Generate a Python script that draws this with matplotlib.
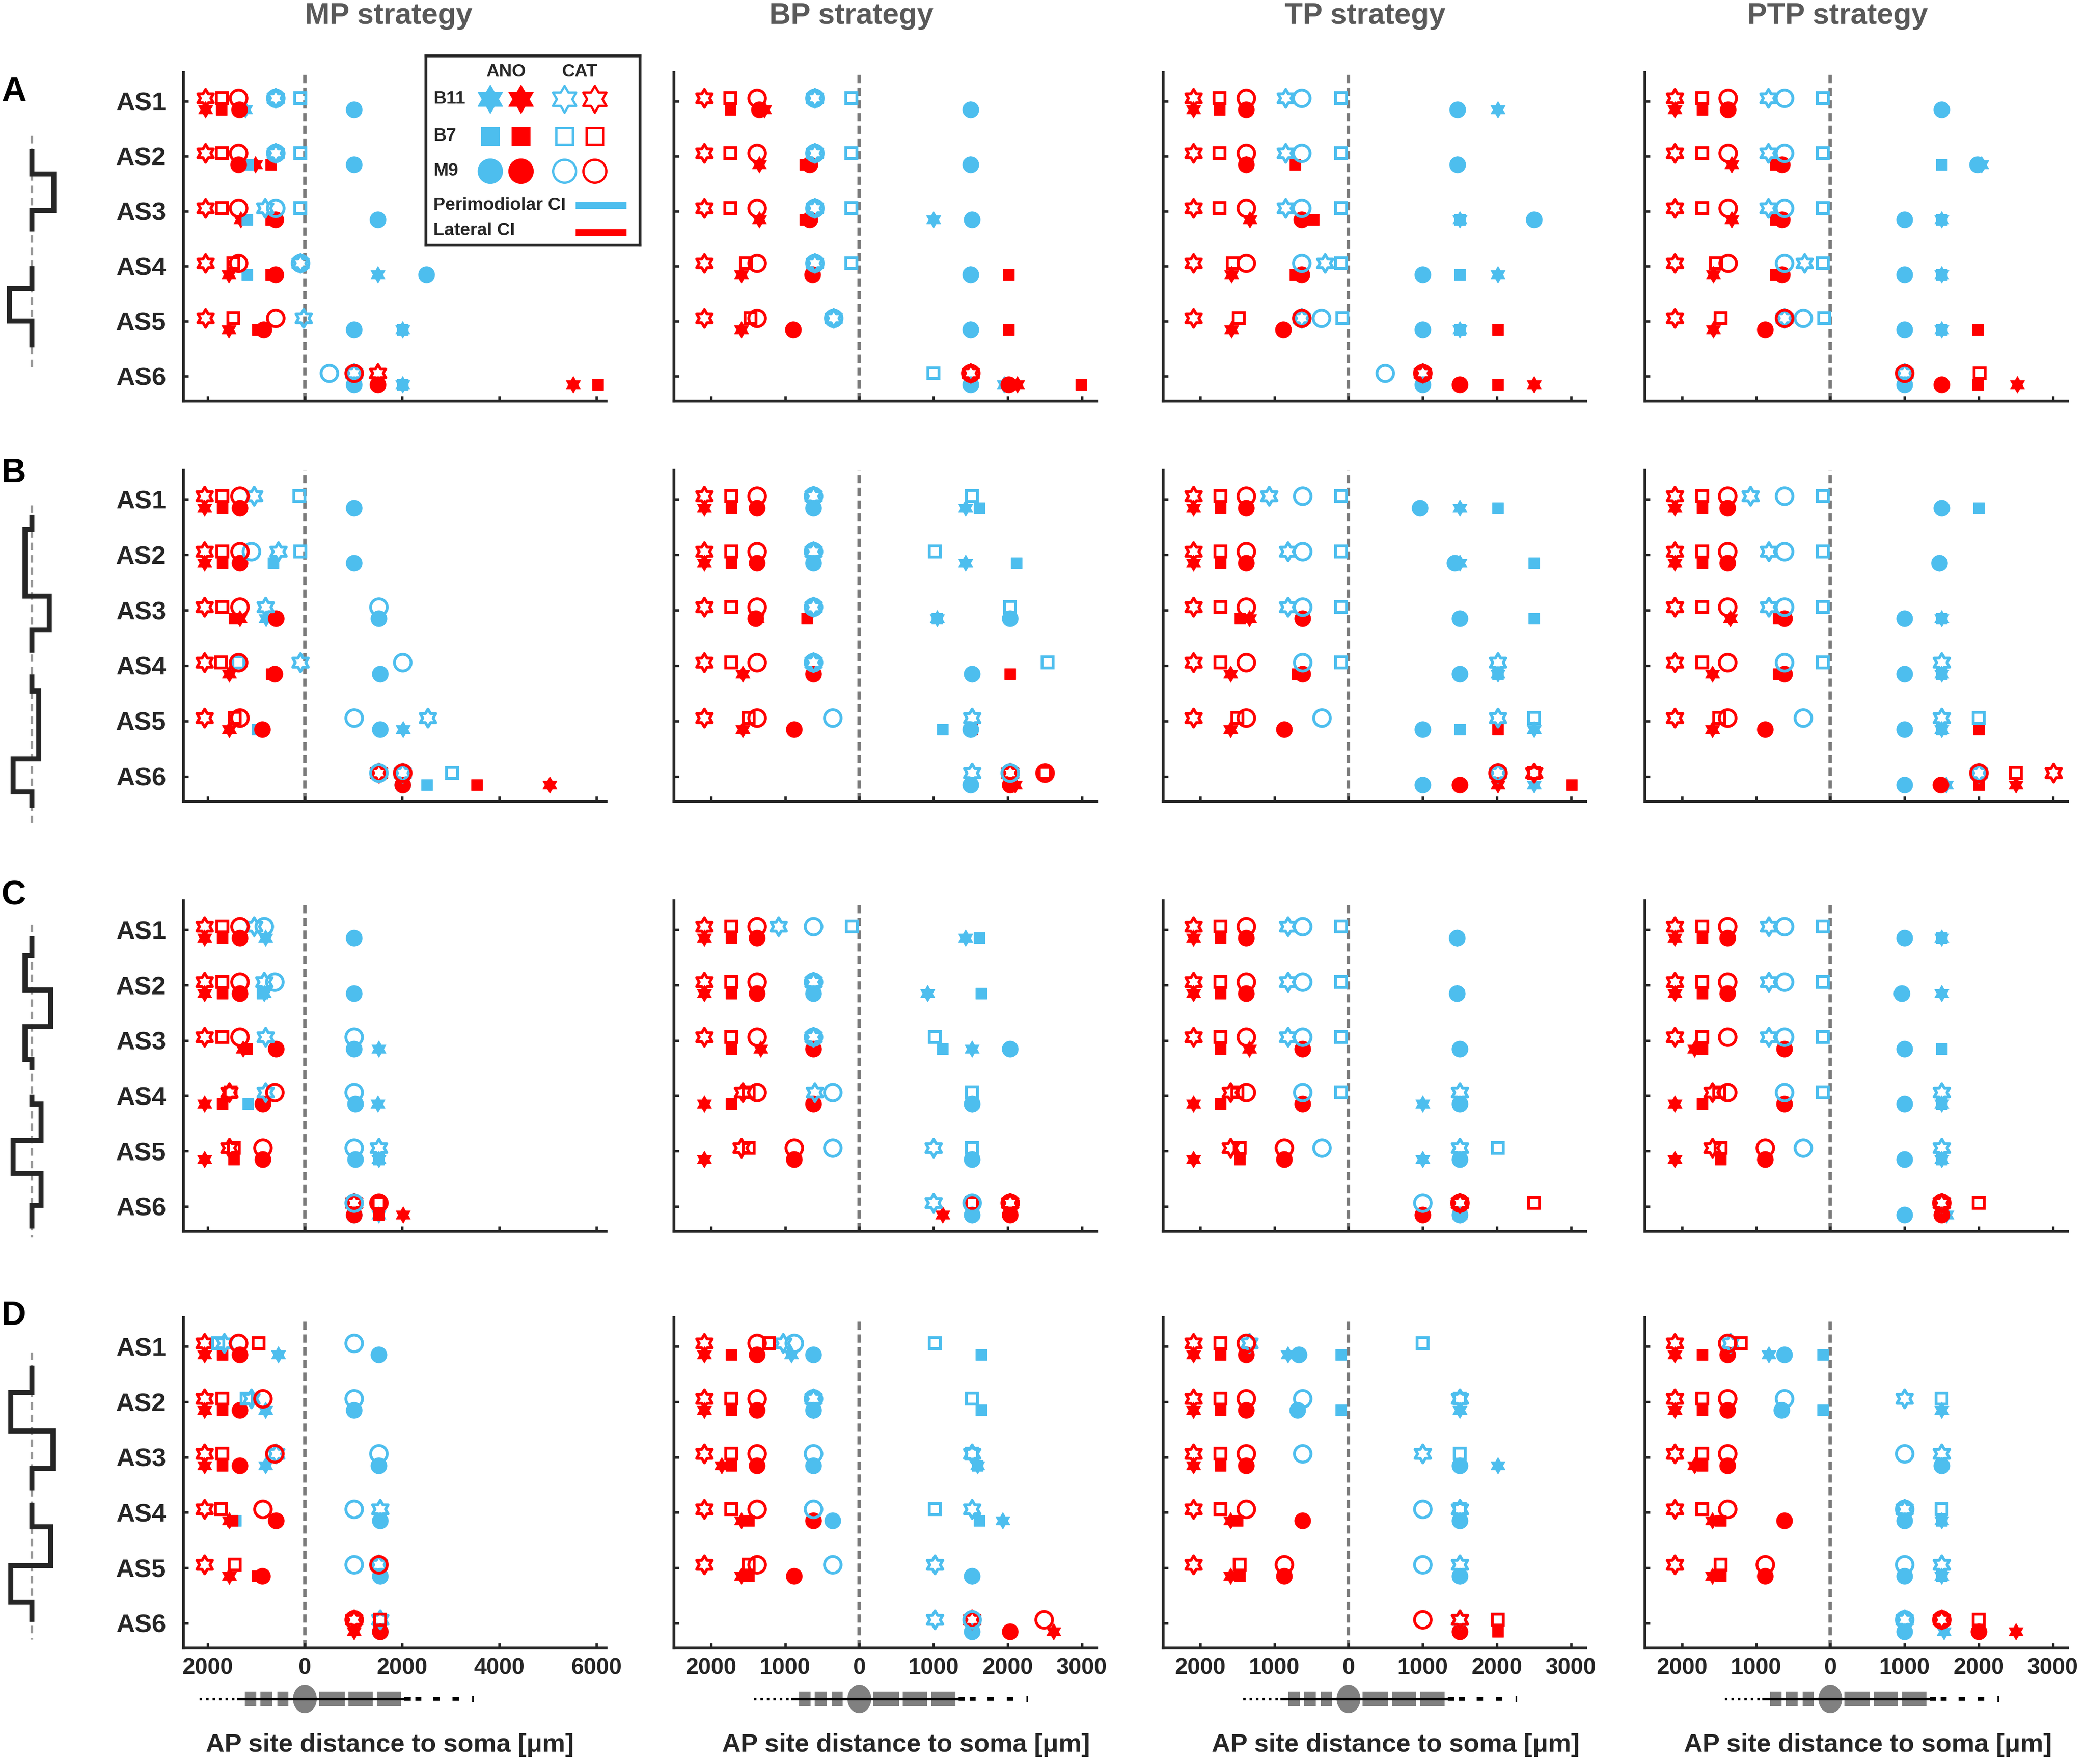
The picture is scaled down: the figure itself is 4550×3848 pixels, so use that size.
import numpy as np
import matplotlib
matplotlib.use("Agg")
import matplotlib.pyplot as plt
from matplotlib.path import Path
from matplotlib.patches import Rectangle, Ellipse

plt.rcParams["font.family"] = ["Liberation Sans", "DejaVu Sans"]
plt.rcParams["font.weight"] = "bold"

nan = np.nan

# ---------------- data ----------------
as_labels = ["AS1", "AS2", "AS3", "AS4", "AS5", "AS6"]
strategy_titles = ["MP strategy", "BP strategy", "TP strategy", "PTP strategy"]
row_letters = ["A", "B", "C", "D"]

mp_ticks = [-2000, 0, 2000, 4000, 6000]
mp_tick_labels = ["2000", "0", "2000", "4000", "6000"]
bp_ticks = [-2000, -1000, 0, 1000, 2000, 3000]
bp_tick_labels = ["2000", "1000", "0", "1000", "2000", "3000"]

# AP site distance to soma, one row per AS1..AS6, 12 columns:
# ANO: B11 peri, B11 lat, B7 peri, B7 lat, M9 peri, M9 lat | CAT: same order
A_MP = [
    [-1230, -2050, nan, -1720, 1010, -1350, -600, -2050, -90, -1710, -600, -1370],
    [nan, -1020, -1165, -700, 1010, -1365, -600, -2050, -90, -1710, -600, -1370],
    [nan, -1320, -1190, -700, 1500, -600, -825, -2050, -90, -1710, -600, -1370],
    [1500, -1565, -1190, -700, 2500, -600, -90, -2050, nan, -1470, -90, -1370],
    [2010, -1565, 2010, -975, 1010, -845, -30, -2050, nan, -1470, nan, -600],
    [2010, 5520, 2010, 6030, 1010, 1500, 1010, 1500, nan, nan, 505, 1010],
]
A_BP = [
    [1500, -1280, 1500, -1740, 1500, -1350, -600, -2090, -110, -1740, -600, -1380],
    [1500, -1350, 1500, -730, 1500, -670, -600, -2090, -110, -1740, -600, -1380],
    [1000, -1350, 1520, -730, 1520, -670, -600, -2090, -110, -1740, -600, -1380],
    [1500, -1590, 1500, 2010, 1500, -630, -600, -2090, -110, -1530, -600, -1380],
    [1500, -1590, 1500, 2010, 1500, -890, -350, -2090, nan, -1470, -350, -1380],
    [1950, 2130, 1500, 2990, 1500, 2010, nan, 1500, 1000, nan, nan, 1500],
]
A_TP = [
    [2010, -2090, 1470, -1740, 1470, -1380, -850, -2090, -100, -1740, -630, -1380],
    [1470, -1380, 1470, -720, 1470, -1380, -850, -2090, -100, -1740, -630, -1380],
    [1500, -1330, 1500, -470, 2500, -630, -850, -2090, -100, -1740, -630, -1380],
    [2010, -1580, 1500, -720, 1000, -630, -320, -2090, -100, -1560, -630, -1380],
    [1500, -1580, 1500, 2010, 1000, -880, -630, -2090, -80, -1480, -370, -630],
    [nan, 2500, nan, 2010, 1000, 1500, 1000, 1000, nan, nan, 490, 1000],
]
A_PTP = [
    [nan, -2100, nan, -1730, 1500, -1380, -840, -2100, -100, -1730, -620, -1380],
    [2040, -1330, 1500, -740, 1980, -650, -840, -2100, -100, -1730, -620, -1380],
    [1500, -1330, 1500, -740, 1000, -650, -840, -2100, -100, -1730, -620, -1380],
    [1500, -1580, 1500, -740, 1000, -650, -350, -2100, -100, -1540, -620, -1380],
    [1500, -1580, 1500, 1990, 1000, -880, -620, -2100, -80, -1480, -370, -620],
    [nan, 2520, nan, 1990, 1000, 1500, 1000, nan, nan, 2010, nan, 1000],
]
B_MP = [
    [nan, -2070, nan, -1700, 1010, -1340, -1050, -2070, -110, -1700, nan, -1340],
    [nan, -2070, -650, -1700, 1010, -1340, -550, -2070, -90, -1700, -1100, -1340],
    [-800, -1340, nan, -1450, 1520, -590, -810, -2070, nan, -1700, 1520, -1340],
    [1550, -1560, nan, -690, 1550, -620, -90, -2070, -1370, -1730, 2010, -1370],
    [2020, -1560, -980, nan, 1550, -880, 2530, -2070, nan, -1440, 1010, -1340],
    [nan, 5040, 2510, 3540, 2010, 2010, 2010, 1520, 3030, nan, 1520, 2010],
]
B_BP = [
    [1430, -2090, 1620, -1730, -620, -1380, -620, -2090, 1520, -1730, -620, -1380],
    [1430, -2090, 2120, -1730, -620, -1380, -620, -2090, 1020, -1730, -620, -1380],
    [1050, -1380, 1050, -710, 2030, -1400, -620, -2090, 2030, -1730, -620, -1380],
    [1520, -1570, 1520, 2030, 1520, -620, -620, -2090, 2540, -1730, -620, -1380],
    [1500, -1570, 1120, 1520, 1500, -880, 1520, -2090, nan, -1490, -360, -1380],
    [1500, 2100, 1500, nan, 1500, 2030, 1520, 2030, nan, 2500, 2030, 2500],
]
B_TP = [
    [1500, -2090, 2010, -1730, 960, -1380, -1070, -2090, -100, -1730, -620, -1380],
    [1500, -2090, 2500, -1730, 1430, -1380, -820, -2090, -100, -1730, -620, -1380],
    [nan, -1340, 2500, -1460, 1500, -620, -820, -2090, -100, -1730, -620, -1380],
    [2010, -1590, 2010, -690, 1500, -620, 2010, -2090, -100, -1730, -620, -1380],
    [2500, -1590, 1500, 2010, 1000, -870, 2010, -2090, 2500, -1500, -360, -1380],
    [2500, 2010, nan, 3010, 1000, 1500, 2010, 2500, nan, 2500, nan, 2010],
]
B_PTP = [
    [nan, -2100, 2000, -1730, 1500, -1390, -1080, -2100, -100, -1730, -620, -1390],
    [1470, -2100, nan, -1730, 1470, -1390, -830, -2100, -100, -1730, -620, -1390],
    [1500, -1350, 1500, -700, 1000, -620, -830, -2100, -100, -1730, -620, -1390],
    [1500, -1590, 1500, -700, 1000, -620, 1500, -2100, -100, -1730, -620, -1390],
    [1500, -1590, 1500, 2000, 1000, -880, 1500, -2100, 2000, -1500, -370, -1390],
    [1560, 2500, nan, 2000, 1000, 1490, 2000, 3010, nan, 2500, nan, 2000],
]
C_MP = [
    [-810, -2070, nan, -1700, 1010, -1340, -1050, -2070, nan, -1700, -840, -1340],
    [-840, -2070, -880, -1700, 1010, -1340, -840, -2070, nan, -1700, -620, -1340],
    [1520, -1270, nan, -1200, 1010, -590, -810, -2070, nan, -1700, 1010, -1340],
    [1500, -2070, -1170, -1700, 1040, -870, -810, -1560, nan, -1530, 1010, -620],
    [1520, -2070, 1520, -1460, 1040, -870, 1520, -1560, nan, -1460, 1010, -870],
    [1520, 2020, nan, 1520, 1010, 1010, nan, 1010, nan, 1520, 1010, 1520],
]
C_BP = [
    [1430, -2090, 1620, -1730, nan, -1380, -1090, -2090, -100, -1730, -620, -1380],
    [920, -2090, 1640, -1730, -620, -1380, -620, -2090, nan, -1730, -620, -1380],
    [1520, -1330, 1120, -1730, 2030, -620, -620, -2090, 1020, -1730, -620, -1380],
    [1520, -2090, 1520, -1730, 1520, -620, -600, -1570, 1520, -1490, -360, -1380],
    [1520, -2090, 1520, nan, 1520, -880, 1000, -1590, 1520, -1490, -360, -880],
    [1520, 1120, 1520, nan, 1520, 2030, 1000, 2030, nan, 1520, 1520, 2030],
]
C_TP = [
    [1460, -2090, 1460, -1730, 1460, -1380, -820, -2090, -100, -1730, -620, -1380],
    [1460, -2090, 1460, -1730, 1460, -1380, -820, -2090, -100, -1730, -620, -1380],
    [nan, -1340, nan, -1730, 1500, -620, -820, -2090, -100, -1730, -620, -1380],
    [1000, -2090, nan, -1730, 1500, -620, 1500, -1590, -100, -1500, -620, -1380],
    [1000, -2090, nan, -1470, 1500, -870, 1500, -1590, 2010, -1470, -360, -870],
    [1500, 1500, 1500, nan, 1500, 1000, 1500, 1500, nan, 2500, 1000, 1500],
]
C_PTP = [
    [1500, -2100, 1500, -1730, 1000, -1390, -830, -2100, -100, -1730, -620, -1390],
    [1500, -2100, nan, -1730, 960, -1390, -830, -2100, -100, -1730, -620, -1390],
    [nan, -1830, 1500, -1730, 1000, -620, -830, -2100, -100, -1730, -620, -1390],
    [1500, -2100, 1500, -1730, 1000, -620, 1500, -1590, -100, -1500, -620, -1390],
    [1500, -2100, 1500, -1480, 1000, -880, 1500, -1590, nan, -1480, -370, -880],
    [1570, nan, nan, nan, 1000, 1500, 1500, 1500, nan, 2000, nan, 1500],
]
D_MP = [
    [-550, -2070, nan, -1700, 1520, -1340, -1660, -2070, -1780, -950, 1010, -1370],
    [-810, -2070, nan, -1700, 1010, -1340, -1100, -2070, -1200, -1700, 1010, -870],
    [-810, -2070, nan, -1700, 1520, -1340, -590, -2070, nan, -1700, 1520, -620],
    [1550, -1560, -1420, -1490, 1550, -590, 1550, -2070, nan, -1730, 1010, -870],
    [1550, -1560, 1550, -980, 1550, -880, 1520, -2070, nan, -1440, 1010, 1520],
    [nan, 1010, nan, nan, 1550, 1550, 1550, 1010, nan, 1550, nan, 1010],
]
D_BP = [
    [-920, -2090, 1640, -1730, -620, -1380, -1030, -2090, 1020, -1220, -880, -1380],
    [-620, -2090, 1640, -1730, -620, -1380, -620, -2090, 1520, -1730, -620, -1380],
    [1590, -1860, 1590, -1730, -620, -1380, 1520, -2090, 1520, -1730, -620, -1380],
    [1930, -1590, 1620, -1490, -360, -620, 1520, -2090, 1020, -1730, -620, -1380],
    [1520, -1590, 1520, -1490, 1520, -880, 1020, -2090, nan, -1490, -360, -1380],
    [1520, 2620, 1520, nan, 1520, 2030, 1020, 1520, nan, nan, 1520, 2490],
]
D_TP = [
    [-820, -2090, -100, -1730, -670, -1380, -1340, -2090, 1000, -1730, nan, -1380],
    [1500, -2090, -100, -1730, -690, -1380, 1500, -2090, 1500, -1730, -620, -1380],
    [2010, -2090, nan, -1730, 1500, -1380, 1000, -2090, 1500, -1730, -620, -1380],
    [1500, -1590, 1500, -1500, 1500, -620, 1500, -2090, 1500, -1730, 1000, -1380],
    [1500, -1590, 1500, -1470, 1500, -870, 1500, -2090, nan, -1470, 1000, -870],
    [1500, nan, nan, 2010, nan, 1500, 1500, 1500, 2010, 2010, nan, 1000],
]
D_PTP = [
    [-830, -2100, -100, -1730, -620, -1390, -1350, -2100, nan, -1210, nan, -1390],
    [1500, -2100, -100, -1730, -660, -1390, 1000, -2100, 1500, -1730, -620, -1390],
    [1500, -1830, 1500, -1730, 1500, -1390, 1500, -2100, nan, -1730, 1000, -1390],
    [1500, -1590, 1500, -1480, 1000, -620, 1000, -2100, 1500, -1730, 1000, -1390],
    [1500, -1590, 1500, -1480, 1000, -880, 1500, -2100, nan, -1480, 1000, -880],
    [1530, 2500, nan, nan, 1000, 2000, 1000, 1500, nan, 2000, 1000, 1500],
]

panels = [
    [A_MP, A_BP, A_TP, A_PTP],
    [B_MP, B_BP, B_TP, B_PTP],
    [C_MP, C_BP, C_TP, C_PTP],
    [D_MP, D_BP, D_TP, D_PTP],
]

# step sketches drawn left of each row (figure pixels, y down)
tree_paths = [
    [[(69, 330), (69, 379), (117, 379), (117, 459), (69, 459), (69, 499)],
     [(69, 586), (69, 629), (20, 629), (20, 700), (69, 700), (69, 752)]],
    [[(69, 1128), (69, 1154), (54, 1154), (54, 1300), (107, 1300), (107, 1374), (69, 1374), (69, 1418)],
     [(69, 1476), (69, 1507), (84, 1507), (84, 1655), (28, 1655), (28, 1727), (69, 1727), (69, 1756)]],
    [[(69, 2047), (69, 2084), (54, 2084), (54, 2159), (110, 2159), (110, 2239), (54, 2239), (54, 2311),
      (69, 2311), (69, 2328)],
     [(69, 2393), (69, 2408), (89, 2408), (89, 2487), (28, 2487), (28, 2559), (89, 2559), (89, 2629),
      (69, 2629), (69, 2674)]],
    [[(69, 2984), (69, 3037), (23, 3037), (23, 3121), (115, 3121), (115, 3203), (69, 3203), (69, 3245)],
     [(69, 3283), (69, 3330), (110, 3330), (110, 3415), (23, 3415), (23, 3494), (69, 3494), (69, 3532)]],
]
tree_dashed_span = [(296, 807), (1102, 1795), (2017, 2699), (2950, 3576)]

# ---------------- layout / style ----------------
W_PX, H_PX = 4550, 3848
BLUE = "#4DBEEE"
RED = "#FF0000"
DARK = "#262626"

col_left = [400, 1470, 2537, 3588]
col_width = 922
row_top = [158, 1026, 1965, 2874]
row_bottom = [875, 1748, 2686, 3595]
x_limits = [(-2500, 6200), (-2500, 3200), (-2500, 3200), (-2500, 3200)]
title_x = [848, 1857, 2977, 4008]
xlabel_x = [850, 1976, 3044, 4074]
letter_y = [200, 1033, 1953, 2870]

ANO_DY, CAT_DY = 0.15, -0.06

ang = np.pi / 2 + np.arange(12) * np.pi / 6
rad = np.where(np.arange(12) % 2 == 0, 1.0, 1 / np.sqrt(3))
hv = np.column_stack([rad * np.cos(ang), rad * np.sin(ang)])
hexagram = Path(np.vstack([hv, hv[:1]]), closed=True)

shape_markers = [hexagram, "s", "o"]
ms_ano = [8.6, 5.6, 8.4]
ms_cat = [9.4, 5.9, 8.7]


def fx(x):
    return x / W_PX


def fy(y):
    return 1 - y / H_PX


fig = plt.figure(figsize=(W_PX / 300, H_PX / 300), dpi=300)

ov = fig.add_axes([0, 0, 1, 1])
ov.set_xlim(0, W_PX)
ov.set_ylim(H_PX, 0)
ov.axis("off")

y_rows = np.arange(1, 7)

for r in range(4):
    for c in range(4):
        ax = fig.add_axes([
            fx(col_left[c]), fy(row_bottom[r]),
            col_width / W_PX, (row_bottom[r] - row_top[r]) / H_PX,
        ])
        ax.set_xlim(*x_limits[c])
        ax.set_ylim(6.45, 0.475)
        ax.axvline(0, color="#7a7a7a", lw=1.8, ls=(0, (2.4, 1.3)), zorder=1)

        vals = np.array(panels[r][c], dtype=float)
        for k in range(12):
            shape = (k % 6) // 2
            color = BLUE if k % 2 == 0 else RED
            if k < 6:
                ax.plot(vals[:, k], y_rows + ANO_DY, ls="none",
                        marker=shape_markers[shape], ms=ms_ano[shape],
                        mfc=color, mec=color, mew=0.3, zorder=3)
            else:
                ax.plot(vals[:, k], y_rows + CAT_DY, ls="none",
                        marker=shape_markers[shape], ms=ms_cat[shape],
                        mfc="none", mec=color, mew=1.5, zorder=4)

        for side in ["top", "right"]:
            ax.spines[side].set_visible(False)
        for side in ["left", "bottom"]:
            ax.spines[side].set_linewidth(1.5)
            ax.spines[side].set_color(DARK)
        ax.tick_params(direction="in", length=2.6, width=1.3, color=DARK)
        ax.tick_params(axis="x", pad=5)
        ax.tick_params(axis="y", pad=9)

        if c == 0:
            ax.set_xticks(mp_ticks)
            tick_labels = mp_tick_labels
        else:
            ax.set_xticks(bp_ticks)
            tick_labels = bp_tick_labels
        if r == 3:
            ax.set_xticklabels(tick_labels, fontsize=12, fontweight="bold", color=DARK)
        else:
            ax.set_xticklabels([])

        ax.set_yticks(y_rows)
        if c == 0:
            ax.set_yticklabels(as_labels, fontsize=13.5, fontweight="bold", color=DARK)
        else:
            ax.set_yticklabels([])

        # neuron sketch under the bottom row, centred on the soma (x = 0)
        if r == 3:
            x0 = col_left[c] + (0 - x_limits[c][0]) / (x_limits[c][1] - x_limits[c][0]) * col_width
            yc = 3706
            ov.plot([x0 - 230, x0 - 146], [yc, yc], color="black", lw=1.3, ls=(0, (1, 1.6)))
            ov.plot([x0 - 146, x0 + 215], [yc, yc], color="black", lw=1.3)
            for a, b in [(-131, -106), (-97, -71), (-60, -36)]:
                ov.add_patch(Rectangle((x0 + a, yc - 16), b - a, 32, color="#808080", lw=0))
            for a, b in [(31, 87), (95, 148), (157, 210)]:
                ov.add_patch(Rectangle((x0 + a, yc - 16), b - a, 32, color="#808080", lw=0))
            ov.add_patch(Ellipse((x0, yc), 52, 62, color="#808080", lw=0))
            for a, b in [(217, 231), (241, 254), (280, 294), (322, 336)]:
                ov.add_patch(Rectangle((x0 + a, yc - 4), b - a, 8, color="black", lw=0))
            ov.plot([x0 + 366, x0 + 366], [yc - 5, yc + 5], color="black", lw=0.8)
            fig.text(fx(xlabel_x[c]), fy(3807), "AP site distance to soma [\u03bcm]",
                     ha="center", va="center", fontsize=13.5, fontweight="bold", color=DARK)

# titles and row letters
for c in range(4):
    fig.text(fx(title_x[c]), fy(35), strategy_titles[c], ha="center", va="center",
             fontsize=15.5, fontweight="bold", color="#595959")
for r in range(4):
    fig.text(fx(30), fy(letter_y[r]), row_letters[r], ha="center", va="center",
             fontsize=18, fontweight="bold", color="black")
    y_a, y_b = tree_dashed_span[r]
    ov.plot([69, 69], [y_a, y_b], color="#9a9a9a", lw=1.3, ls=(0, (3, 2)), zorder=1)
    for seg in tree_paths[r]:
        xs, ys = zip(*seg)
        ov.plot(xs, ys, color="#262626", lw=2.6, solid_joinstyle="miter", zorder=2)

# legend box
leg = fig.add_axes([fx(929), fy(535), 467 / W_PX, 413 / H_PX])
leg.set_xlim(0, 467)
leg.set_ylim(413, 0)
leg.set_xticks([])
leg.set_yticks([])
leg.set_facecolor("white")
leg.set_zorder(10)
for s in leg.spines.values():
    s.set_linewidth(1.5)
    s.set_color(DARK)

legend_models = ["B11", "B7", "M9"]
legend_rows_y = [94, 175, 251]
legend_cols_x = [140, 207, 302, 368]
legend_ms = [15, 9.6, 13]
leg.text(174, 35, "ANO", ha="center", va="center", fontsize=9.4, fontweight="bold", color=DARK)
leg.text(335, 35, "CAT", ha="center", va="center", fontsize=9.4, fontweight="bold", color=DARK)
for i, name in enumerate(legend_models):
    leg.text(16, legend_rows_y[i], name, ha="left", va="center", fontsize=9.4,
             fontweight="bold", color=DARK)
    for j, xj in enumerate(legend_cols_x):
        color = BLUE if j % 2 == 0 else RED
        if j < 2:
            leg.plot([xj], [legend_rows_y[i]], marker=shape_markers[i], ms=legend_ms[i],
                     mfc=color, mec=color, mew=0.3, ls="none")
        else:
            leg.plot([xj], [legend_rows_y[i]], marker=shape_markers[i], ms=legend_ms[i] - 1,
                     mfc="none", mec=color, mew=1.2, ls="none")
leg.text(16, 326, "Perimodiolar CI", ha="left", va="center", fontsize=9.4,
         fontweight="bold", color=DARK)
leg.text(16, 381, "Lateral CI", ha="left", va="center", fontsize=9.4,
         fontweight="bold", color=DARK)
leg.plot([326, 437], [326, 326], color=BLUE, lw=3.6, solid_capstyle="butt")
leg.plot([326, 437], [385, 385], color=RED, lw=3.6, solid_capstyle="butt")

fig.savefig("out.png", dpi=300)
plt.close(fig)
